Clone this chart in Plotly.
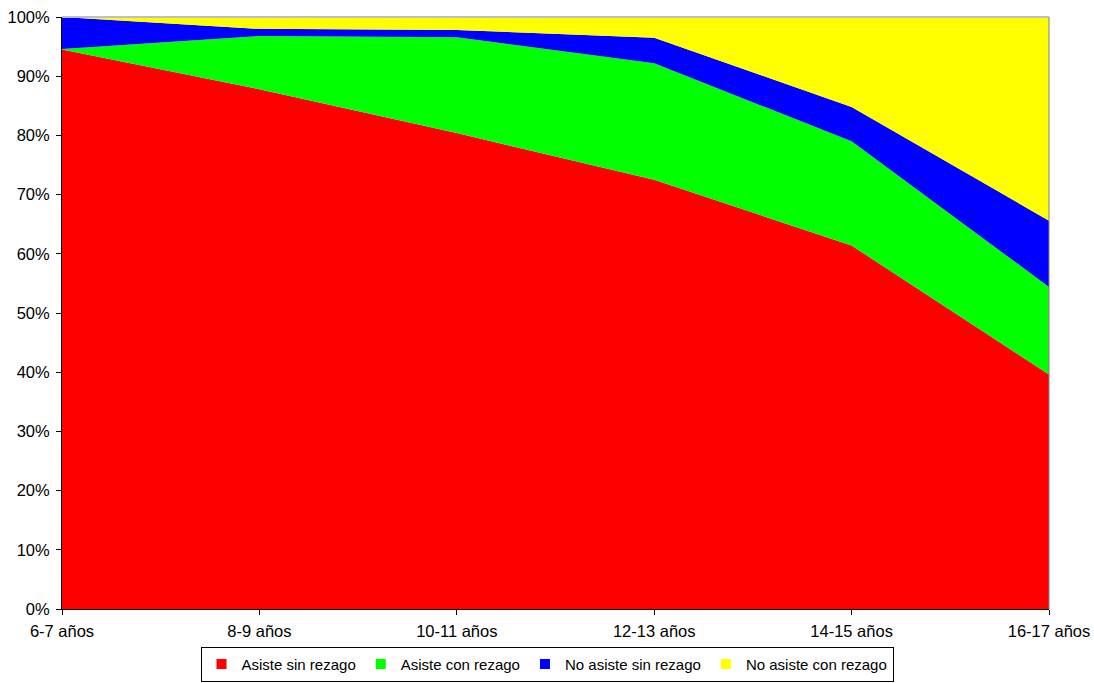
import plotly.graph_objects as go

categories = ["6-7 años", "8-9 años", "10-11 años", "12-13 años", "14-15 años", "16-17 años"]
asiste_sin_rezago = [94.5, 87.8, 80.4, 72.5, 61.4, 39.6]
asiste_con_rezago = [0.1, 9.0, 16.2, 19.7, 17.6, 14.8]
no_asiste_sin_rezago = [5.4, 1.2, 1.2, 4.3, 5.8, 11.2]
no_asiste_con_rezago = [0.0, 2.0, 2.2, 3.5, 15.2, 34.4]

series = [
    ("Asiste sin rezago", asiste_sin_rezago, "#FF0000"),
    ("Asiste con rezago", asiste_con_rezago, "#00FF00"),
    ("No asiste sin rezago", no_asiste_sin_rezago, "#0000FF"),
    ("No asiste con rezago", no_asiste_con_rezago, "#FFFF00"),
]

fig = go.Figure()
for name, vals, color in series:
    fig.add_trace(go.Scatter(
        x=categories, y=vals, name=name, mode="lines",
        stackgroup="one", line=dict(width=0, color=color),
        fillcolor=color, showlegend=False,
    ))
# legend entries with square swatches
for name, vals, color in series:
    fig.add_trace(go.Scatter(
        x=[None], y=[None], name=name, mode="markers",
        marker=dict(symbol="square", size=10, color=color),
        showlegend=True,
    ))

fig.update_layout(
    width=1094, height=683, autosize=False,
    margin=dict(l=62, r=45, t=17, b=74),
    paper_bgcolor="white", plot_bgcolor="white",
    font=dict(family="Liberation Sans, Arial, sans-serif", size=14, color="black"),
    showlegend=True,
    legend=dict(
        orientation="h", x=0.5, xref="container", xanchor="center",
        y=0.002, yref="container", yanchor="bottom",
        bordercolor="black", borderwidth=1, font=dict(size=15),
        itemwidth=30, traceorder="normal", tracegroupgap=0,
        itemsizing="trace",
    ),
    xaxis=dict(
        type="category", range=[0, 5], showgrid=False, zeroline=False,
        showline=True, linecolor="black", linewidth=1,
        ticks="outside", ticklen=5, tickcolor="black",
        tickfont=dict(size=16.5), automargin=False, ticklabelstandoff=2,
    ),
    yaxis=dict(
        range=[0, 100], tickvals=list(range(0, 101, 10)),
        ticktext=[f"{v}%" for v in range(0, 101, 10)],
        showgrid=False, zeroline=False,
        showline=True, linecolor="black", linewidth=1,
        ticks="outside", ticklen=5, tickcolor="black",
        tickfont=dict(size=16.5), automargin=False, ticklabelstandoff=3,
    ),
    shapes=[
        dict(type="line", xref="paper", yref="paper", x0=0, x1=1, y0=1, y1=1,
             line=dict(color="#BFBFBF", width=2)),
        dict(type="line", xref="paper", yref="paper", x0=1, x1=1, y0=0, y1=1,
             line=dict(color="#808080", width=1)),
    ],
)

fig.write_html(
    "out.html",
    config={"responsive": False, "displayModeBar": False},
    default_width="1094px", default_height="683px",
    post_script="document.body.style.margin='0';document.body.style.overflow='hidden';",
)
